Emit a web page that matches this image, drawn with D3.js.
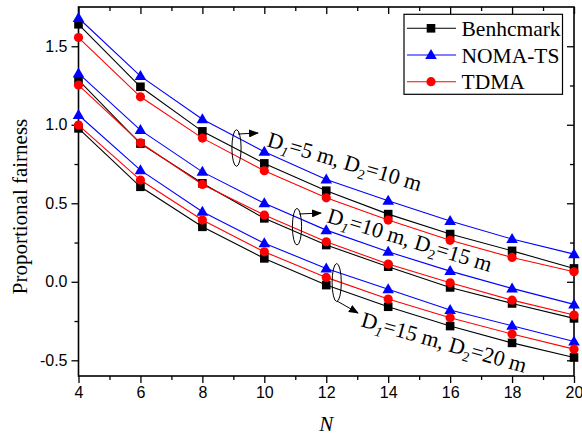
<!DOCTYPE html>
<html>
<head>
<meta charset="utf-8">
<script src="https://cdn.jsdelivr.net/npm/d3@7"></script>
<style>
  body { margin: 0; background: #fff; }
  svg { display: block; }
  .axis path, .axis line { stroke: #000; }
  .axis text { font-family: "Liberation Sans", Arial, sans-serif; font-size: 16px; fill: #000; }
  .serif { font-family: "Liberation Serif", "Times New Roman", Times, serif; }
</style>
</head>
<body>
<svg width="582" height="436"></svg>
<script>
const N = [4, 6, 8, 10, 12, 14, 16, 18, 20];

// D1=5 m, D2=10 m
const bench5 = [1.64, 1.242, 0.958, 0.754, 0.58, 0.431, 0.304, 0.197, 0.085];
const noma5 = [1.68, 1.31, 1.035, 0.828, 0.652, 0.516, 0.387, 0.272, 0.176];
const tdma5 = [1.555, 1.178, 0.915, 0.707, 0.535, 0.393, 0.264, 0.155, 0.064];
// D1=10 m, D2=15 m
const bench10 = [1.285, 0.88, 0.627, 0.404, 0.234, 0.096, -0.036, -0.138, -0.233];
const noma10 = [1.327, 0.966, 0.70, 0.50, 0.329, 0.191, 0.068, -0.042, -0.144];
const tdma10 = [1.253, 0.885, 0.62, 0.425, 0.255, 0.113, -0.006, -0.117, -0.212];
// D1=15 m, D2=20 m
const bench15 = [0.977, 0.605, 0.35, 0.149, -0.021, -0.159, -0.282, -0.389, -0.482];
const noma15 = [1.062, 0.711, 0.446, 0.245, 0.085, -0.048, -0.18, -0.28, -0.38];
const tdma15 = [0.998, 0.648, 0.393, 0.191, 0.028, -0.11, -0.229, -0.333, -0.429];

const xTicks = [4, 6, 8, 10, 12, 14, 16, 18, 20];
const yTicks = [-0.5, 0.0, 0.5, 1.0, 1.5];

const seriesNames = ["Benhcmark", "NOMA-TS", "TDMA"];
const seriesColors = ["#000000", "#0000ff", "#ff0000"];
const seriesShapes = ["square", "triangle", "circle"];

const groups = [
  { label: ["5", "10"], data: [bench5, noma5, tdma5] },
  { label: ["10", "15"], data: [bench10, noma10, tdma10] },
  { label: ["15", "20"], data: [bench15, noma15, tdma15] }
];

const svg = d3.select("svg");
const x0 = 78.5, x1 = 574, yTop = 7, yBot = 376;

const x = d3.scaleLinear().domain([4, 20]).range([x0, x1]);
const y = d3.scaleLinear().domain([-0.6, 1.75]).range([yBot, yTop]);

// minor ticks
const xMinor = d3.range(5, 20, 2);
const yMinor = d3.range(-0.25, 1.75, 0.5);

function styleAxis(g) {
  g.select(".domain").remove();
  g.selectAll("line").attr("stroke-width", 1.3);
}

// bottom
svg.append("g").attr("class", "axis").attr("transform", `translate(0,${yBot})`)
  .call(d3.axisBottom(x).tickValues(xTicks).tickSize(7).tickPadding(4).tickFormat(d3.format("d")))
  .call(styleAxis);
svg.append("g").attr("class", "axis").attr("transform", `translate(0,${yBot})`)
  .call(d3.axisBottom(x).tickValues(xMinor).tickSize(4).tickFormat(""))
  .call(styleAxis);
// top
svg.append("g").attr("class", "axis").attr("transform", `translate(0,${yTop})`)
  .call(d3.axisBottom(x).tickValues(xTicks).tickSize(7).tickFormat(""))
  .call(styleAxis);
svg.append("g").attr("class", "axis").attr("transform", `translate(0,${yTop})`)
  .call(d3.axisBottom(x).tickValues(xMinor).tickSize(4).tickFormat(""))
  .call(styleAxis);
// left
svg.append("g").attr("class", "axis").attr("transform", `translate(${x0},0)`)
  .call(d3.axisLeft(y).tickValues(yTicks).tickSize(7).tickPadding(4).tickFormat((d) => d.toFixed(1)))
  .call(styleAxis);
svg.append("g").attr("class", "axis").attr("transform", `translate(${x0},0)`)
  .call(d3.axisLeft(y).tickValues(yMinor).tickSize(4).tickFormat(""))
  .call(styleAxis);
// right
svg.append("g").attr("class", "axis").attr("transform", `translate(${x1},0)`)
  .call(d3.axisLeft(y).tickValues(yTicks).tickSize(7).tickFormat(""))
  .call(styleAxis);
svg.append("g").attr("class", "axis").attr("transform", `translate(${x1},0)`)
  .call(d3.axisLeft(y).tickValues(yMinor).tickSize(4).tickFormat(""))
  .call(styleAxis);

svg.append("rect")
  .attr("x", x0).attr("y", yTop)
  .attr("width", x1 - x0).attr("height", yBot - yTop)
  .attr("fill", "none").attr("stroke", "#000").attr("stroke-width", 1.6);

// labels
svg.append("text")
  .attr("class", "serif")
  .attr("transform", `translate(27,${(yTop + yBot) / 2 + 15}) rotate(-90)`)
  .attr("text-anchor", "middle")
  .attr("font-size", 21)
  .text("Proportional fairness");

svg.append("text")
  .attr("class", "serif")
  .attr("x", (x0 + x1) / 2).attr("y", 431)
  .attr("text-anchor", "middle")
  .attr("font-style", "italic")
  .attr("font-size", 21)
  .text("N");

function drawMarker(sel, shape, color, cx, cy) {
  if (shape === "square") {
    sel.append("rect").attr("x", cx - 4.3).attr("y", cy - 4.3)
      .attr("width", 8.6).attr("height", 8.6).attr("fill", color);
  } else if (shape === "triangle") {
    sel.append("path")
      .attr("d", `M${cx},${cy - 6} L${cx + 5.8},${cy + 4} L${cx - 5.8},${cy + 4} Z`)
      .attr("fill", color);
  } else {
    sel.append("circle").attr("cx", cx).attr("cy", cy).attr("r", 4.6).attr("fill", color);
  }
}

const line = d3.line().x((d, i) => x(N[i])).y((d) => y(d));
const plot = svg.append("g");

groups.forEach((grp) => {
  grp.data.forEach((vals, k) => {
    const s = plot.append("g");
    s.append("path").attr("d", line(vals))
      .attr("fill", "none").attr("stroke", seriesColors[k]).attr("stroke-width", 1.1);
    vals.forEach((v, i) => drawMarker(s, seriesShapes[k], seriesColors[k], x(N[i]), y(v)));
  });
});

// annotations
const defs = svg.append("defs");
defs.append("marker")
  .attr("id", "arr").attr("markerUnits", "userSpaceOnUse")
  .attr("markerWidth", 10).attr("markerHeight", 8)
  .attr("refX", 9).attr("refY", 4).attr("orient", "auto")
  .append("path").attr("d", "M0,0 L10,4 L0,8 Z").attr("fill", "#000");

const annot = [
  { ex: 236.5, ey: 148, ry: 18.3, ax: [238, 134, 258, 133], tx: 266, ty: 146, rot: 16.5 },
  { ex: 297, ey: 226.7, ry: 18.3, ax: [299, 214, 321, 213], tx: 326, ty: 222, rot: 17 },
  { ex: 336.7, ey: 282.5, ry: 19, ax: [337, 301, 358, 313], tx: 360, ty: 326, rot: 16 }
];

annot.forEach((a, i) => {
  svg.append("ellipse").attr("cx", a.ex).attr("cy", a.ey).attr("rx", 4.6).attr("ry", a.ry)
    .attr("fill", "none").attr("stroke", "#000").attr("stroke-width", 1);
  svg.append("line").attr("x1", a.ax[0]).attr("y1", a.ax[1]).attr("x2", a.ax[2]).attr("y2", a.ax[3])
    .attr("stroke", "#000").attr("stroke-width", 1).attr("marker-end", "url(#arr)");
  const t = svg.append("text")
    .attr("class", "serif")
    .attr("transform", `translate(${a.tx},${a.ty}) rotate(${a.rot})`)
    .attr("font-size", 22);
  const lab = groups[i].label;
  t.append("tspan").text("D");
  t.append("tspan").attr("dy", 5).attr("font-size", 14).attr("font-style", "italic").text("1");
  t.append("tspan").attr("dy", -5).text(`=${lab[0]} m, D`);
  t.append("tspan").attr("dy", 5).attr("font-size", 14).text("2");
  t.append("tspan").attr("dy", -5).text(`=${lab[1]} m`);
});

// legend
const lg = svg.append("g");
lg.append("rect").attr("x", 404).attr("y", 14.3).attr("width", 158.5).attr("height", 80)
  .attr("fill", "#fff").attr("stroke", "#000").attr("stroke-width", 1.2);
seriesNames.forEach((name, k) => {
  const ly = 28.3 + k * 26.7;
  lg.append("line").attr("x1", 407).attr("x2", 456).attr("y1", ly).attr("y2", ly)
    .attr("stroke", seriesColors[k]).attr("stroke-width", 1.1);
  drawMarker(lg, seriesShapes[k], seriesColors[k], 431, ly);
  lg.append("text").attr("class", "serif").attr("x", 461.5).attr("y", ly + 7.5)
    .attr("font-size", 21.5)
    .text(name);
});
</script>
</body>
</html>
